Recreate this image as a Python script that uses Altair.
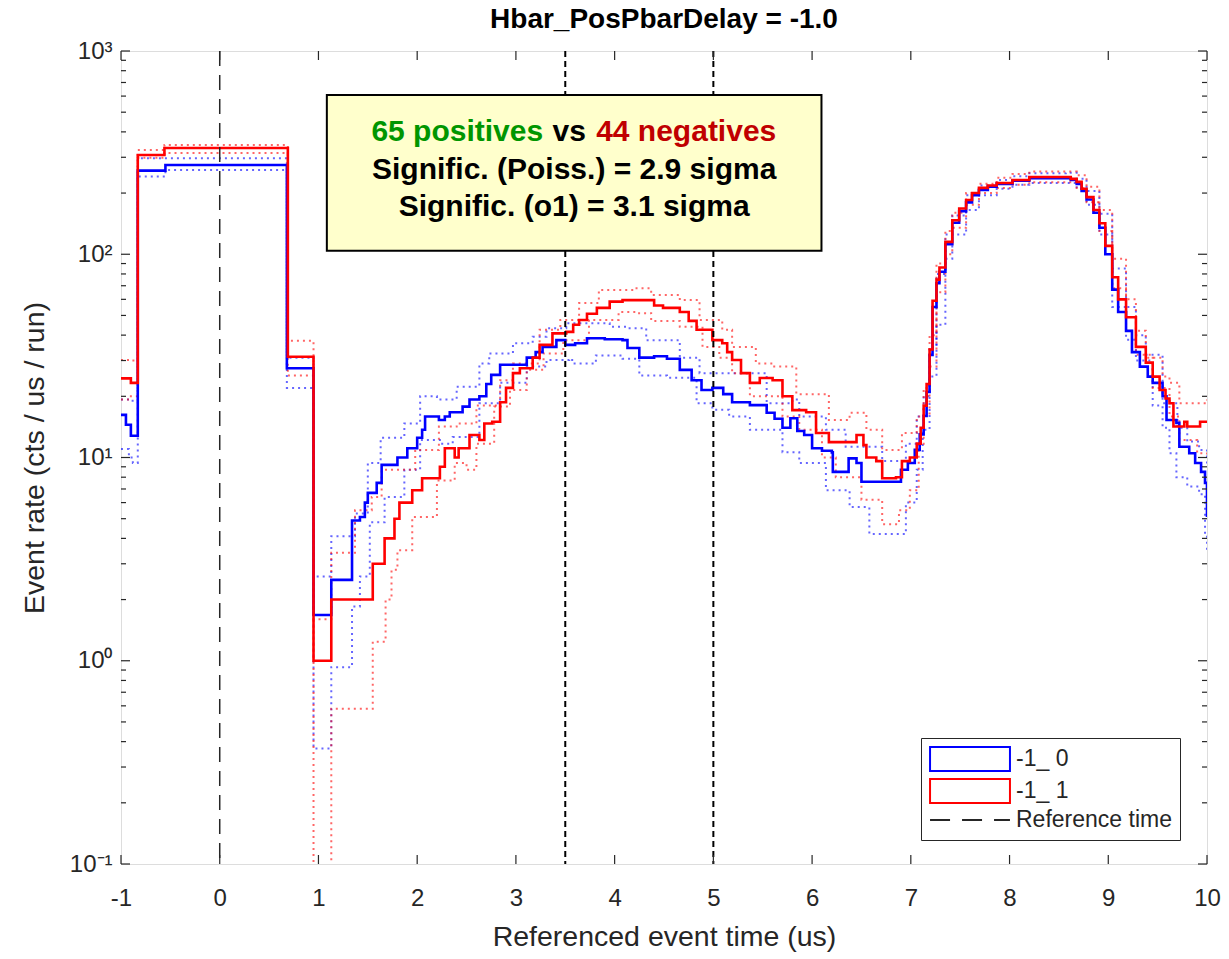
import altair as alt
import pandas as pd

TITLE = "Hbar_PosPbarDelay = -1.0"
XLABEL = "Referenced event time (us)"
YLABEL = "Event rate (cts / us / run)"
SERIES = ["-1_ 0", "-1_ 1"]
REF_LABEL = "Reference time"
LEGEND_DOMAIN = ["-1_ 0", "-1_ 1", "Reference time"]

XTICKS = [-1, 0, 1, 2, 3, 4, 5, 6, 7, 8, 9, 10]
YMAJOR = [0.1, 1, 10, 100, 1000]
YMAJOR_LABELS = ["10⁻¹", "10⁰", "10¹", "10²", "10³"]
YMINOR = [0.2, 0.3, 0.4, 0.5, 0.6, 0.7, 0.8, 0.9,
          2, 3, 4, 5, 6, 7, 8, 9,
          20, 30, 40, 50, 60, 70, 80, 90,
          200, 300, 400, 500, 600, 700, 800, 900]
REF_TIME = [0.0]
WINDOW = [3.5, 5.0]

# ---- blue solid (-1_ 0)
B_X = [-1.00, -0.95, -0.90, -0.83, -0.55, 0.68, 0.95, 1.13, 1.34, 1.42, 1.47, 1.50, 1.59, 1.64,
       1.80, 1.90, 2.00, 2.05, 2.08, 2.22, 2.28, 2.33, 2.46, 2.53, 2.63, 2.70, 2.75, 2.84, 3.00,
       3.11, 3.20, 3.27, 3.41, 3.50, 3.60, 3.72, 3.90, 4.08, 4.13, 4.25, 4.40, 4.53, 4.66, 4.78,
       4.88, 4.99, 5.10, 5.19, 5.37, 5.54, 5.62, 5.70, 5.78, 5.85, 5.92, 6.00, 6.10, 6.20, 6.21,
       6.33, 6.37, 6.45, 6.50, 6.90, 6.97, 7.04, 7.09, 7.13, 7.16, 7.19, 7.22, 7.26, 7.29, 7.35,
       7.42, 7.49, 7.56, 7.62, 7.69, 7.78, 7.87, 8.03, 8.20, 8.57, 8.62, 8.68, 8.73, 8.78, 8.85,
       8.91, 8.97, 9.04, 9.10, 9.18, 9.24, 9.32, 9.40, 9.45, 9.55, 9.59, 9.69, 9.72, 9.82, 9.88,
       9.94, 9.98, 10.0]
B_Y = [16.2, 14.5, 12.8, 258, 275, 27.5, 1.68, 2.5, 4.9, 5.1, 6.0, 6.7, 7.5, 9.2,
       10.0, 11.1, 12.5, 13.7, 15.9, 15.3, 15.9, 16.7, 17.8, 19.3, 20.0, 23.0, 25.5, 28.6, 28.6,
       31.0, 33.0, 35.0, 37.8, 35.8, 36.5, 38.6, 38.2, 37.8, 34.6, 31.0, 31.5, 30.6, 27.0, 24.0,
       21.5, 22.0, 20.5, 18.7, 18.1, 16.6, 15.5, 14.0, 15.6, 13.5, 12.9, 11.1, 10.8, 10.6, 8.5,
       8.5, 9.9, 9.4, 7.6, 8.7, 9.4, 10.9, 13.0, 16.0, 21.0, 32.0, 55.0, 72.0, 82.0, 112,
       143, 163, 180, 195, 207, 215, 222, 230, 237, 237, 232, 222, 205, 186, 160,
       135, 100, 67.0, 52.0, 42.0, 33.0, 28.0, 25.0, 23.3, 20.0, 15.3, 14.8, 11.3, 10.5, 9.4,
       8.5, 7.5, 5.1]

# ---- red solid (-1_ 1)
R_X = [-1.00, -0.90, -0.83, -0.56, 0.69, 0.95, 1.13, 1.55, 1.67, 1.77, 1.82, 1.95, 2.05, 2.23,
       2.28, 2.38, 2.42, 2.53, 2.63, 2.68, 2.76, 2.84, 2.90, 2.97, 3.04, 3.17, 3.24, 3.37, 3.51,
       3.58, 3.64, 3.72, 3.82, 3.95, 4.08, 4.28, 4.40, 4.49, 4.66, 4.75, 4.83, 4.99, 5.09, 5.14,
       5.19, 5.28, 5.37, 5.47, 5.60, 5.70, 5.80, 5.94, 6.04, 6.17, 6.45, 6.52, 6.55, 6.65, 6.71,
       6.85, 6.91, 6.99, 7.06, 7.10, 7.13, 7.16, 7.19, 7.22, 7.26, 7.29, 7.35, 7.42, 7.49, 7.56,
       7.62, 7.69, 7.78, 7.87, 8.03, 8.20, 8.57, 8.62, 8.68, 8.73, 8.78, 8.85, 8.91, 8.97, 9.04,
       9.10, 9.18, 9.28, 9.38, 9.45, 9.52, 9.58, 9.62, 9.66, 9.75, 9.77, 9.80, 9.90, 9.93, 10.0]
R_Y = [24.5, 23.3, 308, 333, 31.3, 1.0, 2.0, 3.0, 4.0, 5.0, 6.0, 6.9, 7.9, 9.0,
       11.1, 10.0, 11.1, 12.9, 12.2, 14.7, 15.0, 18.7, 22.0, 26.0, 27.5, 31.0, 35.8, 40.8, 41.5,
       45.0, 47.5, 51.0, 54.5, 58.5, 59.5, 59.5, 56.0, 54.5, 52.0, 47.0, 42.5, 37.8, 36.5, 33.0,
       30.2, 26.0, 23.3, 24.6, 24.0, 20.0, 17.1, 16.7, 13.2, 11.9, 12.9, 11.5, 10.0, 9.6, 7.9,
       8.0, 9.6, 10.0, 11.7, 14.0, 18.0, 23.0, 34.0, 59.0, 75.0, 86.0, 115, 147, 168, 185,
       200, 212, 218, 224, 232, 240, 240, 235, 227, 210, 191, 165, 142, 110, 77.0,
       60.0, 49.0, 35.0, 29.3, 25.0, 21.5, 19.5, 18.5, 14.2, 14.2, 15.0, 14.2, 14.2, 15.0, 15.0]

# ---- blue dotted upper / lower
BU_X = [-1.00, -0.90, -0.83, 0.68, 0.95, 1.13, 1.37, 1.50, 1.63, 1.87, 2.03, 2.20, 2.40, 2.63,
        2.73, 2.97, 3.17, 3.31, 3.51, 3.72, 3.95, 4.12, 4.32, 4.66, 4.86, 5.19, 5.54, 5.80, 5.87,
        6.14, 6.34, 6.71, 6.95, 7.06, 7.13, 7.19, 7.26, 7.35, 7.42, 7.56, 7.69, 7.87, 8.03, 8.20,
        8.57, 8.68, 8.78, 8.91, 9.04, 9.18, 9.28, 9.38, 9.55, 9.70, 9.80, 9.92, 10.0]
BU_Y = [19.3, 19.0, 297, 31.0, 2.6, 4.1, 5.3, 9.4, 12.5, 14.7, 20.0, 19.3, 22.3, 29.0,
        32.5, 36.5, 39.3, 43.3, 45.7, 45.7, 44.0, 43.3, 37.8, 31.0, 26.0, 26.0, 18.5, 19.3, 15.9,
        13.7, 11.3, 9.6, 11.7, 15.9, 20.0, 35.0, 80.0, 125, 155, 195, 218, 232, 242, 250,
        252, 235, 205, 158, 85.0, 55.0, 40.0, 32.0, 18.5, 14.0, 12.0, 10.9, 9.0]
BL_X = [-1.00, -0.92, -0.88, -0.83, -0.55, 0.68, 0.95, 1.13, 1.34, 1.42, 1.52, 1.67, 1.87, 2.03,
        2.23, 2.36, 2.63, 2.84, 3.11, 3.31, 3.54, 3.57, 3.81, 4.08, 4.25, 4.53, 4.83, 4.99, 5.16,
        5.37, 5.70, 5.87, 6.14, 6.38, 6.58, 6.78, 6.95, 7.06, 7.12, 7.19, 7.26, 7.35, 7.42, 7.56,
        7.69, 7.87, 8.03, 8.20, 8.57, 8.68, 8.78, 8.91, 9.04, 9.18, 9.28, 9.45, 9.55, 9.62, 9.69,
        9.80, 9.92, 9.98, 10.0]
BL_Y = [11.0, 10.0, 9.4, 241, 260, 22.0, 0.37, 0.93, 1.85, 2.6, 4.8, 6.4, 8.7, 12.2,
        11.7, 12.6, 18.5, 23.3, 28.0, 30.2, 30.6, 29.0, 31.8, 30.6, 25.3, 24.7, 18.5, 17.2, 15.9,
        13.7, 10.6, 9.4, 6.9, 5.7, 4.2, 4.2, 6.0, 8.7, 13.7, 25.0, 45.0, 95.0, 125, 165,
        195, 210, 220, 224, 224, 210, 175, 125, 55.0, 38.0, 30.0, 18.0, 14.0, 10.5, 8.0,
        7.2, 6.6, 4.2, 3.5]

# ---- red dotted upper / lower
RU_X = [-1.00, -0.90, -0.83, -0.56, 0.69, 0.95, 1.13, 1.37, 1.54, 1.64, 1.98, 2.22, 2.40, 2.60,
        2.84, 2.97, 3.24, 3.45, 3.64, 3.84, 4.21, 4.37, 4.66, 4.86, 5.09, 5.19, 5.43, 5.60, 5.84,
        6.17, 6.38, 6.55, 6.71, 6.91, 7.06, 7.13, 7.19, 7.26, 7.35, 7.42, 7.56, 7.69, 7.87, 8.03,
        8.20, 8.57, 8.68, 8.78, 8.91, 9.04, 9.18, 9.28, 9.38, 9.55, 9.62, 9.72, 9.90, 10.0]
RU_Y = [30.2, 30.0, 326, 345, 37.5, 1.6, 3.4, 5.5, 6.4, 8.7, 10.9, 14.2, 14.7, 18.0,
        24.0, 29.0, 42.5, 47.5, 57.5, 66.7, 68.0, 63.0, 59.5, 47.5, 42.5, 35.0, 29.0, 28.0, 20.5,
        15.3, 16.6, 13.7, 10.9, 13.2, 15.9, 22.0, 40.0, 90.0, 130, 160, 200, 222, 238, 248,
        255, 255, 245, 215, 165, 95.0, 60.0, 42.0, 31.0, 25.0, 23.3, 18.5, 18.5, 19.3]
RL_X = [-1.00, -0.90, -0.83, -0.56, 0.69, 0.95, 1.13, 1.55, 1.68, 1.74, 1.80, 1.95, 2.20, 2.38,
        2.50, 2.60, 2.78, 2.94, 3.11, 3.28, 3.48, 3.74, 4.04, 4.21, 4.37, 4.66, 4.89, 5.06, 5.19,
        5.37, 5.70, 5.87, 6.10, 6.24, 6.50, 6.71, 6.88, 6.99, 7.08, 7.13, 7.19, 7.26, 7.35, 7.42,
        7.56, 7.69, 7.87, 8.03, 8.20, 8.57, 8.68, 8.78, 8.91, 9.04, 9.18, 9.28, 9.45, 9.62, 9.72,
        9.90, 10.0]
RL_Y = [19.3, 20.0, 298, 315, 25.3, 0.01, 0.58, 1.24, 2.0, 2.8, 3.5, 5.1, 7.7, 9.4,
        8.7, 11.7, 17.8, 21.5, 27.0, 32.5, 37.8, 47.5, 52.0, 51.3, 47.0, 44.0, 35.0, 31.0, 26.0,
        20.0, 15.9, 13.7, 10.0, 8.0, 6.2, 4.7, 5.5, 6.9, 11.7, 16.0, 28.0, 65.0, 100, 135,
        175, 200, 212, 220, 226, 226, 212, 180, 130, 68.0, 42.0, 32.0, 22.0, 15.9, 12.2,
        10.5, 10.0]

ANNOT_BOX = {"x": 1.085, "x2": 6.095, "y": 607.0, "y2": 104.0}
ANNOT_CX = 3.59
LINE1 = [("65 positives", "#009600", "right", -31), ("vs", "#000000", "center", -5),
         ("44 negatives", "#C00000", "left", 22)]
LINE1_Y = 400.0
OTHER_LINES = ["Signific. (Poiss.) = 2.9 sigma", "Signific. (o1) = 3.1 sigma"]
OTHER_Y = [260.0, 171.0]

COLORS = ["#0000FF", "#FF0000", "#262626"]

W, H = 1086, 813
FONT = "Liberation Sans"


def frame(xs, ys, series):
    return pd.DataFrame({"x": xs, "y": ys, "series": series})


solid = pd.concat([frame(B_X, B_Y, SERIES[0]), frame(R_X, R_Y, SERIES[1])])
dotted = pd.concat([
    frame(BU_X, BU_Y, SERIES[0]).assign(band="u0"),
    frame(BL_X, BL_Y, SERIES[0]).assign(band="l0"),
    frame(RU_X, RU_Y, SERIES[1]).assign(band="u1"),
    frame(RL_X, RL_Y, SERIES[1]).assign(band="l1"),
])

xscale = alt.Scale(domain=[-1, 10], nice=False, zero=False)
yscale = alt.Scale(type="log", domain=[0.1, 1000], nice=False)

label_expr = " : ".join(
    f"datum.value == {v} ? '{t}'" for v, t in zip(YMAJOR, YMAJOR_LABELS)) + " : ''"

X = alt.X("x:Q", scale=xscale, axis=alt.Axis(
    values=XTICKS, labelExpr="'' + datum.value", title=XLABEL, ticks=False, domain=False, grid=False,
    labelFlush=False, labelOverlap=False,
    labelFontSize=24, titleFontSize=28.5, labelPadding=22, titlePadding=12,
    labelColor="#262626", titleColor="#262626", titleFontWeight="normal",
    labelFont=FONT, titleFont=FONT))
Y = alt.Y("y:Q", scale=yscale, axis=alt.Axis(
    values=YMAJOR, labelExpr=label_expr, title=YLABEL, ticks=False, domain=False, grid=False,
    labelFlush=False, labelOverlap=False,
    labelFontSize=24, titleFontSize=28.5, labelPadding=9, titlePadding=20,
    labelColor="#262626", titleColor="#262626", titleFontWeight="normal",
    labelFont=FONT, titleFont=FONT))

color_scale = alt.Scale(domain=LEGEND_DOMAIN, range=COLORS)

dotted_layer = alt.Chart(dotted).mark_line(
    interpolate="step-after", strokeDash=[2, 4], strokeWidth=2, opacity=0.6, clip=True
).encode(x=X, y=Y, color=alt.Color("series:N", scale=color_scale, legend=None),
         detail="band:N")

solid_layer = alt.Chart(solid).mark_line(
    interpolate="step-after", strokeWidth=2.6, clip=True
).encode(x=X, y=Y, color=alt.Color("series:N", scale=color_scale, legend=None))

ref_layer = alt.Chart(pd.DataFrame({"x": REF_TIME})).mark_rule(
    color="#262626", strokeDash=[15, 9], strokeWidth=1.5
).encode(x=X)

win_layer = alt.Chart(pd.DataFrame({"x": WINDOW})).mark_rule(
    color="#000000", strokeDash=[6, 4], strokeWidth=2
).encode(x=X)

box_layer = alt.Chart(pd.DataFrame([ANNOT_BOX])).mark_rect(
    fill="#FFFFCC", stroke="#000000", strokeWidth=2
).encode(x=alt.X("x:Q", scale=xscale), x2="x2:Q", y=alt.Y("y:Q", scale=yscale), y2="y2:Q")

text_layers = []
for txt, col, al, dx in LINE1:
    text_layers.append(alt.Chart(pd.DataFrame({"x": [ANNOT_CX], "y": [LINE1_Y], "t": [txt]})).mark_text(
        font=FONT, fontSize=30, fontWeight="bold", color=col, align=al, dx=dx, baseline="middle"
    ).encode(x=alt.X("x:Q", scale=xscale), y=alt.Y("y:Q", scale=yscale), text="t:N"))
text_layers.append(alt.Chart(pd.DataFrame({"x": [ANNOT_CX] * 2, "y": OTHER_Y, "t": OTHER_LINES})).mark_text(
    font=FONT, fontSize=30, fontWeight="bold", color="#000000", align="center", baseline="middle"
).encode(x=alt.X("x:Q", scale=xscale), y=alt.Y("y:Q", scale=yscale), text="t:N"))

# inside ticks (MATLAB style box axes)
xt = pd.DataFrame({"x": XTICKS})
ymaj = pd.DataFrame({"y": YMAJOR})
ymin = pd.DataFrame({"y": YMINOR})
tick_style = dict(color="#262626", strokeWidth=1.2)
ticks = [
    alt.Chart(xt).mark_rule(**tick_style).encode(x=alt.X("x:Q", scale=xscale), y=alt.value(H), y2=alt.value(H - 9)),
    alt.Chart(xt).mark_rule(**tick_style).encode(x=alt.X("x:Q", scale=xscale), y=alt.value(0), y2=alt.value(9)),
    alt.Chart(ymaj).mark_rule(**tick_style).encode(y=alt.Y("y:Q", scale=yscale), x=alt.value(0), x2=alt.value(9)),
    alt.Chart(ymaj).mark_rule(**tick_style).encode(y=alt.Y("y:Q", scale=yscale), x=alt.value(W), x2=alt.value(W - 9)),
    alt.Chart(ymin).mark_rule(**tick_style).encode(y=alt.Y("y:Q", scale=yscale), x=alt.value(0), x2=alt.value(5)),
    alt.Chart(ymin).mark_rule(**tick_style).encode(y=alt.Y("y:Q", scale=yscale), x=alt.value(W), x2=alt.value(W - 5)),
]

# legend built from an invisible point layer
RECT_PATH = "M-3.33,-1H3.33V1H-3.33Z"
DASH_PATH = "M-3.33,0H3.33"
legend_df = pd.DataFrame({"series": LEGEND_DOMAIN})
leg_pos = dict(orient="none", legendX=800, legendY=687, title=None)
legend_layer = alt.Chart(legend_df).mark_point(filled=False, opacity=0, size=576, strokeWidth=2).encode(
    x=alt.value(0), y=alt.value(0),
    color=alt.Color("series:N", scale=color_scale, title=None, legend=alt.Legend(
        **leg_pos,
        labelFontSize=23, labelFont=FONT, labelColor="#262626",
        symbolOpacity=1, symbolSize=576, symbolStrokeWidth=2, symbolOffset=28,
        labelOffset=33, rowPadding=0, padding=8,
        strokeColor="#262626", fillColor="#FFFFFF")),
    shape=alt.Shape("series:N", scale=alt.Scale(domain=LEGEND_DOMAIN, range=[RECT_PATH, RECT_PATH, DASH_PATH]),
                    title=None, legend=alt.Legend(**leg_pos)),
    strokeDash=alt.StrokeDash("series:N", scale=alt.Scale(domain=LEGEND_DOMAIN, range=[[1, 0], [1, 0], [20, 12]]),
                              title=None, legend=alt.Legend(**leg_pos)),
)

chart = alt.layer(
    dotted_layer, solid_layer, ref_layer, win_layer, box_layer, *text_layers, *ticks, legend_layer
).resolve_legend(
    color="independent", shape="independent", strokeDash="independent"
).properties(
    width=W, height=H,
    title=alt.TitleParams(TITLE, fontSize=28, fontWeight="bold", color="#000000", font=FONT, offset=5),
    autosize=alt.AutoSizeParams(type="none"),
    padding={"left": 121, "top": 51, "right": 22, "bottom": 95},
).configure_view(stroke="#262626", strokeWidth=1.5).configure(background="#FFFFFF")

chart.save("out.html", embed_options={"renderer": "svg", "actions": False})
